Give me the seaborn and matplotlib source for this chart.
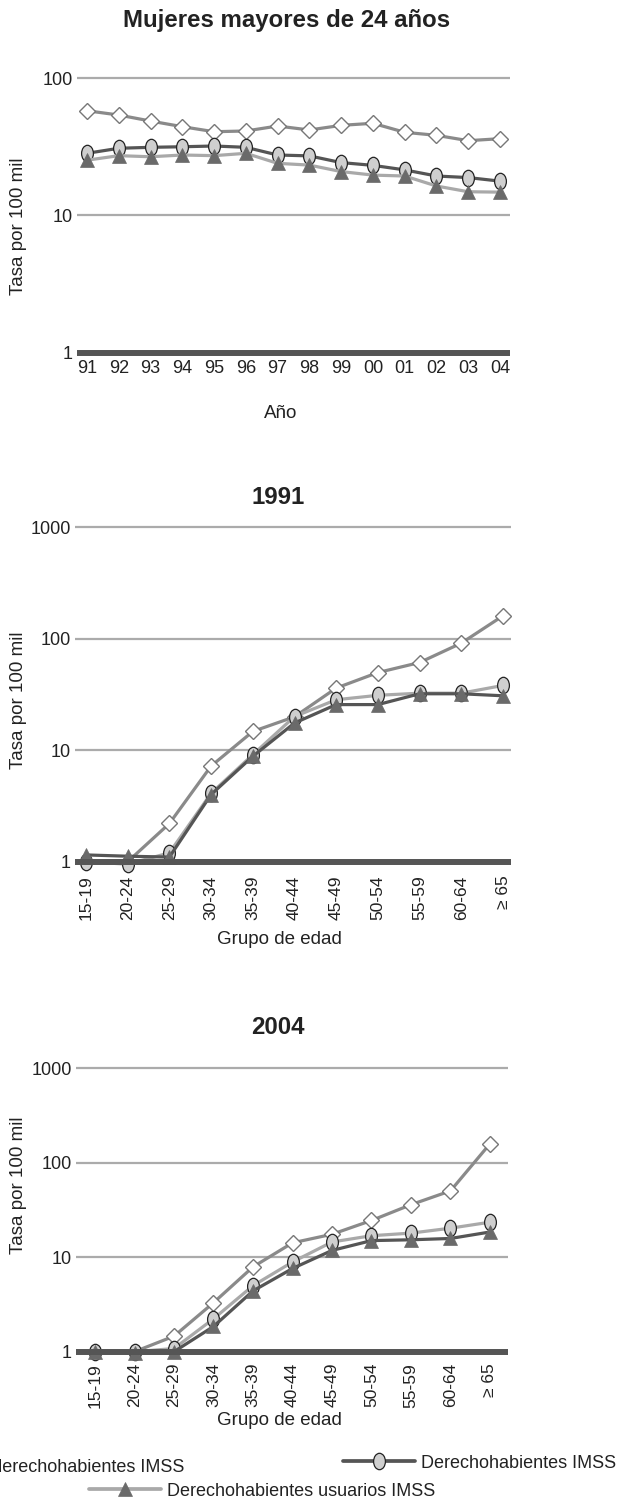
import numpy as np
import pandas as pd
import seaborn as sns
import matplotlib
matplotlib.use("Agg")
import matplotlib.pyplot as plt
from matplotlib.path import Path
from matplotlib.lines import Line2D
from matplotlib.ticker import NullLocator

# ---------------- data ----------------
years = ["91", "92", "93", "94", "95", "96", "97", "98", "99", "00", "01", "02", "03", "04"]
no_dh_year = [58, 54, 48.8, 44.4, 40.8, 41.3, 44.9, 42, 45.4, 47, 40.4, 38.4, 35.1, 36.3]
dh_year = [28.4, 30.9, 31.4, 31.7, 32.1, 31.4, 27.6, 27.2, 24.3, 23.2, 21.5, 19.4, 18.9, 17.8]
usu_year = [25.3, 27.3, 26.8, 27.6, 27.3, 28.4, 24.0, 23.3, 20.9, 19.7, 19.4, 16.4, 14.9, 14.8]

ages = ["15-19", "20-24", "25-29", "30-34", "35-39", "40-44",
        "45-49", "50-54", "55-59", "60-64", "\u2265 65"]
no_dh_1991 = [np.nan, 1.0, 2.2, 7.2, 14.7, 19.9, 36, 49.6, 61, 91, 160]
dh_1991 = [1.0, 0.95, 1.2, 4.1, 9.1, 20, 28.3, 31, 32.4, 32.4, 38]
usu_1991 = [1.15, 1.12, 1.1, 4.0, 8.8, 17.5, 25.6, 25.6, 32, 32, 30.7]

no_dh_2004 = [1.0, 1.0, 1.46, 3.3, 7.9, 14.2, 17.5, 24.5, 36, 50.4, 159]
dh_2004 = [1.0, 1.0, 1.08, 2.23, 5.0, 8.9, 14.5, 16.9, 18.0, 20.3, 23.5]
usu_2004 = [1.0, 0.97, 1.0, 1.85, 4.4, 7.6, 11.8, 15.0, 15.3, 15.8, 18.5]

labels = ["No derechohabientes IMSS", "Derechohabientes IMSS",
          "Derechohabientes usuarios IMSS"]

# ---------------- style ----------------
sns.set_style("white")
plt.rcParams["font.family"] = ["Liberation Sans", "DejaVu Sans"]

W, H = 619, 1506
fig = plt.figure(figsize=(W / 100, H / 100), dpi=100)

DARK = "#555555"
LIGHT = "#a9a9a9"
MID = "#8a8a8a"
GRID = "#ababab"
TXT = "#222222"

_c = Path.unit_circle()
ELLIPSE = Path(_c.vertices * np.array([0.72, 1.0]), _c.codes)

STYLE_DIAMOND = dict(marker="D", markersize=8.4, markerfacecolor="white",
                     markeredgecolor="#777777", markeredgewidth=1.0)
STYLE_CIRCLE = dict(marker=ELLIPSE, markersize=11.8, markerfacecolor="#cfcfcf",
                    markeredgecolor="#222222", markeredgewidth=0.9)
STYLE_TRIANGLE = dict(marker="^", markersize=9.8, markerfacecolor="#6a6a6a",
                      markeredgecolor="#6a6a6a", markeredgewidth=0.5)


def fx(px):
    return px / W


def fy(py):
    return 1 - py / H


def panel(left, right, y_one, y_top, top_val, x_first, x_last, n):
    """Log axes whose value 1 sits at pixel row y_one and top_val at y_top."""
    dec = (y_one - y_top) / np.log10(top_val)
    ax_top = y_top - 4
    ymax = 10 ** ((y_one - ax_top) / dec)
    ax = fig.add_axes([fx(left), fy(y_one), (right - left) / W, (y_one - ax_top) / H])
    ax.set_yscale("log")
    ax.set_ylim(1, ymax)
    step = (x_last - x_first) / (n - 1)
    ax.set_xlim((left - x_first) / step, (right - x_first) / step)
    return ax


def draw_series(ax, cats, no_dh, dh, usu, circle_col, tri_col):
    x = np.arange(len(cats))
    df = pd.DataFrame({"x": x, "no_dh": no_dh, "dh": dh, "usu": usu})
    sns.lineplot(data=df, x="x", y="no_dh", color=MID, linewidth=2.3,
                 estimator=None, errorbar=None, clip_on=False, ax=ax, **STYLE_DIAMOND)
    sns.lineplot(data=df, x="x", y="dh", color=circle_col, linewidth=2.3,
                 estimator=None, errorbar=None, clip_on=False, ax=ax, **STYLE_CIRCLE)
    sns.lineplot(data=df, x="x", y="usu", color=tri_col, linewidth=2.3,
                 estimator=None, errorbar=None, clip_on=False, ax=ax, **STYLE_TRIANGLE)


def decorate(ax, cats, yticks, minor_off, rotation, pad, xsize):
    n = len(cats)
    ax.set_yticks(yticks)
    ax.set_yticklabels([str(v) for v in yticks])
    ax.yaxis.set_minor_locator(NullLocator())
    ax.grid(axis="y", which="major", color=GRID, linewidth=1.6)
    ax.grid(axis="x", visible=False)
    ax.set_axisbelow(True)
    ax.set_xticks(np.arange(n))
    ax.set_xticklabels(cats, rotation=rotation)
    ax.set_xticks(np.arange(n - 1) + minor_off, minor=True)
    ax.tick_params(axis="x", which="major", length=0, pad=pad, labelsize=xsize,
                   labelcolor=TXT)
    ax.tick_params(axis="x", which="minor", length=5.5, width=1.1, color="#111111",
                   direction="out")
    ax.tick_params(axis="y", which="both", length=0, pad=3, labelsize=13,
                   labelcolor=TXT)
    for s in ("left", "top", "right"):
        ax.spines[s].set_visible(False)
    ax.spines["bottom"].set_linewidth(4.3)
    ax.spines["bottom"].set_color(DARK)
    ax.spines["bottom"].set_capstyle("butt")


# ---------------- panel 1: by year ----------------
ax1 = panel(77, 510, 352.7, 78.3, 100, 87, 500, len(years))
draw_series(ax1, years, no_dh_year, dh_year, usu_year, DARK, LIGHT)
decorate(ax1, years, [1, 10, 100], 0.42, 0, 5, 13)
ax1.set_xlabel("Año", fontsize=13.5, color=TXT)
ax1.xaxis.set_label_coords(fx(281), fy(405), transform=fig.transFigure)
ax1.set_ylabel("Tasa por 100 mil", fontsize=13.5, color=TXT)
ax1.yaxis.set_label_coords(fx(27), fy(226), transform=fig.transFigure)
fig.text(fx(287), fy(20), "Mujeres mayores de 24 años", ha="center", va="center",
         fontsize=17.3, fontweight="bold", color=TXT)

# ---------------- panel 2: 1991 ----------------
ax2 = panel(75, 511, 861.7, 527, 1000, 86, 503, len(ages))
draw_series(ax2, ages, no_dh_1991, dh_1991, usu_1991, LIGHT, DARK)
decorate(ax2, ages, [1, 10, 100, 1000], 0.57, 90, 10, 12.5)
ax2.set_xlabel("Grupo de edad", fontsize=13.5, color=TXT)
ax2.xaxis.set_label_coords(fx(279), fy(931), transform=fig.transFigure)
ax2.set_ylabel("Tasa por 100 mil", fontsize=13.5, color=TXT)
ax2.yaxis.set_label_coords(fx(27), fy(700), transform=fig.transFigure)
fig.text(fx(278), fy(498), "1991", ha="center", va="center",
         fontsize=17.3, fontweight="bold", color=TXT)

# ---------------- panel 3: 2004 ----------------
ax3 = panel(76, 508, 1351.7, 1068.3, 1000, 95, 490, len(ages))
draw_series(ax3, ages, no_dh_2004, dh_2004, usu_2004, LIGHT, DARK)
decorate(ax3, ages, [1, 10, 100, 1000], 0.47, 90, 8, 12.5)
ax3.set_xlabel("Grupo de edad", fontsize=13.5, color=TXT)
ax3.xaxis.set_label_coords(fx(279), fy(1412), transform=fig.transFigure)
ax3.set_ylabel("Tasa por 100 mil", fontsize=13.5, color=TXT)
ax3.yaxis.set_label_coords(fx(27), fy(1185), transform=fig.transFigure)
fig.text(fx(278), fy(1028), "2004", ha="center", va="center",
         fontsize=17.3, fontweight="bold", color=TXT)

# ---------------- legend ----------------
h_no = Line2D([], [], color=MID, linewidth=2.3, **STYLE_DIAMOND)
h_dh = Line2D([], [], color=DARK, linewidth=2.7, **STYLE_CIRCLE)
h_usu = Line2D([], [], color=LIGHT, linewidth=2.7, **STYLE_TRIANGLE)
common = dict(frameon=False, handlelength=4.0, handletextpad=0.33, borderpad=0,
              borderaxespad=0, fontsize=13, labelcolor=TXT)
fig.legend([h_no], [labels[0]], loc="center right",
           bbox_to_anchor=(fx(184), fy(1468)), **common)
fig.legend([h_dh], [labels[1]], loc="center left",
           bbox_to_anchor=(fx(343), fy(1463)), **common)
fig.legend([h_usu], [labels[2]], loc="center left",
           bbox_to_anchor=(fx(89), fy(1491)), **common)

fig.savefig("out.png", dpi=100)
